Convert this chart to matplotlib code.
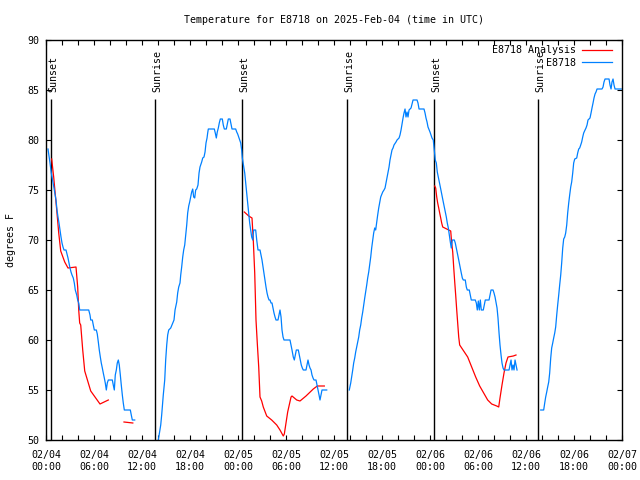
"""
Temperature for E8718 on 2025-Feb-04: station obs vs analysis, with sunrise/sunset markers.
"""

import matplotlib
matplotlib.use("Agg")

import matplotlib.pyplot as plt
import matplotlib.dates as mdates
import pandas as pd

START = pd.Timestamp("2025-02-04 00:00")

# hours since START, degrees F
obs_seg1 = [
    (0.25, 79.1), (0.5, 77.7), (0.66, 76.7), (1.0, 75.2), (1.25, 74.0), (1.375, 73.0),
    (1.5, 72.3), (1.625, 71.7), (1.75, 71.0), (1.875, 70.3), (2.0, 69.7), (2.125, 69.3),
    (2.25, 69.0), (2.5, 69.0), (2.75, 68.2), (2.875, 67.7), (3.0, 67.2), (3.125, 66.8),
    (3.25, 66.5), (3.41, 66.2), (3.54, 65.7), (3.66, 65.0), (3.84, 64.5), (3.96, 64.0),
    (4.09, 63.7), (4.21, 63.0), (5.34, 63.0), (5.5, 62.5), (5.59, 62.0), (5.79, 62.0),
    (5.91, 61.5), (6.04, 61.0), (6.29, 61.0), (6.41, 60.6), (6.54, 59.8), (6.66, 59.0),
    (6.79, 58.3), (6.91, 57.7), (7.04, 57.2), (7.16, 56.7), (7.29, 56.2), (7.41, 55.7),
    (7.54, 55.0), (7.66, 55.7), (7.79, 56.0), (8.29, 56.0), (8.41, 55.5), (8.54, 55.0),
    (8.66, 56.5), (8.79, 57.0), (8.91, 57.7), (9.04, 58.0), (9.16, 57.5), (9.29, 56.5),
    (9.41, 55.5), (9.54, 54.5), (9.66, 53.7), (9.79, 53.0), (10.54, 53.0), (10.66, 52.5),
    (10.79, 52.0), (11.09, 52.0),
]
obs_seg2 = [
    (14.04, 50.0), (14.34, 51.5), (14.46, 52.5), (14.66, 54.5), (14.84, 56.0), (14.96, 58.0),
    (15.09, 59.5), (15.21, 60.5), (15.34, 61.0), (15.59, 61.2), (15.84, 61.7), (16.0, 62.0),
    (16.13, 63.0), (16.34, 63.8), (16.46, 64.7), (16.59, 65.3), (16.75, 65.7), (16.84, 66.5),
    (16.96, 67.3), (17.09, 68.3), (17.21, 69.0), (17.34, 69.5), (17.46, 70.5), (17.59, 71.5),
    (17.71, 72.7), (17.84, 73.4), (17.96, 73.8), (18.09, 74.3), (18.21, 74.8), (18.34, 75.1),
    (18.46, 74.3), (18.59, 74.2), (18.71, 75.0), (18.84, 75.1), (19.0, 75.5), (19.13, 76.7),
    (19.25, 77.3), (19.46, 77.8), (19.59, 78.2), (19.75, 78.3), (19.88, 78.8), (20.0, 79.7),
    (20.13, 80.2), (20.21, 80.7), (20.29, 81.1), (21.04, 81.1), (21.16, 80.7), (21.29, 80.2),
    (21.41, 80.8), (21.54, 81.2), (21.66, 81.7), (21.79, 82.1), (22.04, 82.1), (22.16, 81.5),
    (22.29, 81.1), (22.54, 81.1), (22.66, 81.6), (22.79, 82.1), (23.0, 82.1), (23.13, 81.6),
    (23.25, 81.1), (23.71, 81.1), (23.84, 80.8), (23.96, 80.6), (24.09, 80.3), (24.21, 80.0),
    (24.34, 79.7), (24.46, 79.0), (24.54, 78.2), (24.66, 77.6), (24.84, 76.7), (24.96, 75.7),
    (25.09, 74.7), (25.21, 73.7), (25.34, 72.7), (25.46, 71.7), (25.59, 71.0), (25.71, 70.3),
    (25.84, 70.0), (25.96, 71.0), (26.21, 71.0), (26.34, 70.0), (26.5, 69.0), (26.75, 69.0),
    (26.88, 68.5), (27.0, 68.0), (27.13, 67.3), (27.25, 66.7), (27.38, 66.0), (27.5, 65.3),
    (27.63, 64.7), (27.75, 64.3), (27.88, 64.0), (28.0, 64.0), (28.13, 63.7), (28.25, 63.7),
    (28.38, 63.2), (28.5, 62.7), (28.63, 62.3), (28.75, 62.0), (29.0, 62.0), (29.13, 62.5),
    (29.25, 63.0), (29.38, 62.3), (29.5, 61.0), (29.63, 60.3), (29.75, 60.0), (30.5, 60.0),
    (30.63, 59.5), (30.75, 59.0), (30.91, 58.3), (31.04, 58.0), (31.16, 58.5), (31.29, 59.0),
    (31.54, 59.0), (31.66, 58.5), (31.79, 58.0), (31.91, 57.5), (32.04, 57.2), (32.16, 57.0),
    (32.5, 57.0), (32.63, 57.5), (32.75, 58.0), (32.88, 57.5), (33.0, 57.2), (33.13, 57.0),
    (33.25, 56.5), (33.38, 56.2), (33.5, 56.0), (33.75, 56.0), (33.88, 55.5), (34.0, 55.0),
    (34.13, 54.5), (34.25, 54.0), (34.38, 54.5), (34.5, 55.0), (35.09, 55.0),
]
obs_seg3 = [
    (37.91, 55.0), (38.09, 55.7), (38.21, 56.3), (38.34, 57.0), (38.46, 57.7), (38.59, 58.2),
    (38.71, 58.8), (38.84, 59.3), (38.96, 59.8), (39.09, 60.3), (39.21, 61.0), (39.34, 61.5),
    (39.46, 62.2), (39.59, 62.8), (39.71, 63.5), (39.84, 64.2), (39.96, 64.8), (40.09, 65.5),
    (40.21, 66.2), (40.34, 66.8), (40.46, 67.5), (40.59, 68.3), (40.71, 69.2), (40.84, 70.0),
    (40.96, 70.7), (41.09, 71.2), (41.21, 71.0), (41.34, 71.8), (41.46, 72.5), (41.59, 73.2),
    (41.71, 73.7), (41.84, 74.3), (42.09, 74.8), (42.25, 75.0), (42.38, 75.2), (42.5, 75.7),
    (42.63, 76.2), (42.75, 76.7), (42.88, 77.3), (43.0, 78.0), (43.13, 78.5), (43.25, 79.0),
    (43.38, 79.2), (43.5, 79.5), (43.75, 79.8), (43.88, 80.0), (44.13, 80.2), (44.25, 80.5),
    (44.38, 81.0), (44.5, 81.6), (44.63, 82.2), (44.75, 82.7), (44.88, 83.1), (45.0, 82.3),
    (45.13, 82.8), (45.25, 82.3), (45.38, 83.0), (45.63, 83.2), (45.75, 83.6), (45.88, 84.0),
    (46.38, 84.0), (46.5, 83.7), (46.63, 83.1), (47.25, 83.1), (47.38, 82.7), (47.5, 82.2),
    (47.63, 81.8), (47.75, 81.3), (48.0, 80.8), (48.25, 80.2), (48.41, 80.0), (48.54, 79.0),
    (48.66, 78.0), (48.79, 77.7), (48.91, 76.8), (49.04, 76.3), (49.16, 75.8), (49.29, 75.3),
    (49.41, 74.8), (49.54, 74.3), (49.66, 73.8), (49.79, 73.3), (49.91, 72.8), (50.04, 72.3),
    (50.16, 71.7), (50.29, 71.2), (50.41, 70.5), (50.54, 69.8), (50.66, 69.2), (50.79, 70.0),
    (51.04, 70.0), (51.16, 69.7), (51.29, 69.2), (51.41, 68.7), (51.54, 68.2), (51.66, 67.7),
    (51.79, 67.2), (51.91, 66.7), (52.04, 66.2), (52.16, 66.0), (52.41, 66.0), (52.54, 65.3),
    (52.66, 65.0), (52.91, 65.0), (53.04, 64.5), (53.16, 64.0), (53.66, 64.0), (53.79, 63.7),
    (53.91, 63.0), (54.04, 63.9), (54.16, 63.0), (54.29, 64.0), (54.41, 63.0), (54.66, 63.0),
    (54.79, 63.5), (54.91, 64.0), (55.38, 64.0), (55.5, 64.5), (55.63, 65.0), (55.88, 65.0),
    (56.0, 64.7), (56.13, 64.3), (56.25, 63.8), (56.38, 63.2), (56.5, 62.2), (56.63, 60.7),
    (56.75, 59.5), (56.88, 58.5), (57.0, 57.7), (57.13, 57.2), (57.25, 57.0), (57.88, 57.0),
    (58.0, 57.5), (58.13, 58.0), (58.25, 57.0), (58.38, 57.5), (58.5, 57.0), (58.63, 58.0),
    (58.75, 57.5), (58.88, 57.0),
]
obs_seg4 = [
    (61.84, 53.0), (62.21, 53.0), (62.34, 53.7), (62.46, 54.3), (62.59, 54.8), (62.71, 55.3),
    (62.84, 55.8), (62.96, 56.7), (63.09, 58.2), (63.21, 59.2), (63.34, 59.7), (63.46, 60.2),
    (63.59, 60.7), (63.71, 61.3), (63.84, 62.5), (63.96, 63.5), (64.09, 64.5), (64.21, 65.5),
    (64.34, 66.5), (64.46, 67.7), (64.59, 69.2), (64.71, 70.1), (64.84, 70.3), (64.96, 70.7),
    (65.09, 71.5), (65.21, 72.7), (65.34, 73.7), (65.46, 74.5), (65.59, 75.3), (65.71, 75.8),
    (65.84, 76.7), (65.96, 77.7), (66.09, 78.1), (66.34, 78.2), (66.46, 78.7), (66.59, 79.1),
    (66.71, 79.2), (66.84, 79.5), (66.96, 79.8), (67.09, 80.3), (67.21, 80.7), (67.38, 81.0),
    (67.5, 81.2), (67.63, 81.5), (67.75, 82.0), (68.0, 82.2), (68.13, 82.7), (68.25, 83.2),
    (68.38, 83.7), (68.5, 84.2), (68.63, 84.6), (68.75, 84.8), (68.88, 85.1), (69.5, 85.1),
    (69.63, 85.3), (69.75, 85.8), (69.88, 86.1), (70.38, 86.1), (70.5, 85.5), (70.63, 85.1),
    (70.75, 85.8), (70.88, 86.1), (71.0, 85.5), (71.13, 85.1), (71.9, 85.1),
]

ana_seg1 = [
    (0.71, 78.1), (0.96, 76.3), (1.34, 73.0), (1.59, 70.7), (1.84, 68.9), (2.34, 67.8),
    (2.75, 67.2), (3.75, 67.3), (3.96, 65.3), (4.09, 63.0), (4.21, 61.7), (4.34, 61.5),
    (4.59, 59.0), (4.84, 56.9), (5.59, 54.9), (6.75, 53.6), (7.79, 54.0),
]
ana_seg2 = [(9.75, 51.8), (10.85, 51.7)]
ana_seg3 = [
    (24.79, 72.8), (25.34, 72.4), (25.75, 72.2), (25.91, 70.0), (26.09, 66.7), (26.25, 62.0),
    (26.41, 59.7), (26.59, 57.3), (26.75, 54.3), (26.96, 53.9), (27.16, 53.3), (27.59, 52.4),
    (28.21, 52.0), (28.84, 51.5), (29.25, 51.0), (29.66, 50.4), (29.79, 50.6), (30.21, 52.8),
    (30.63, 54.3), (30.75, 54.4), (31.34, 54.0), (31.75, 53.9), (32.5, 54.4), (33.41, 55.1),
    (33.91, 55.4), (34.79, 55.4),
]
ana_seg4 = [
    (48.59, 75.4), (48.71, 75.2), (48.84, 74.3), (48.96, 73.7), (49.09, 73.2), (49.21, 72.7),
    (49.34, 72.2), (49.46, 71.7), (49.59, 71.3), (50.09, 71.1), (50.59, 70.9), (50.71, 69.7),
    (50.84, 68.8), (50.96, 67.3), (51.09, 65.8), (51.21, 64.5), (51.34, 63.0), (51.46, 61.7),
    (51.59, 60.3), (51.71, 59.5), (52.21, 58.9), (52.71, 58.3), (53.21, 57.3), (53.71, 56.3),
    (54.21, 55.4), (54.71, 54.7), (55.21, 54.0), (55.71, 53.6), (56.34, 53.4), (56.59, 53.3),
    (56.75, 54.2), (57.0, 55.5), (57.25, 56.7), (57.5, 57.7), (57.75, 58.3), (58.41, 58.4),
    (58.75, 58.5),
]

sun_events = ["Sunset", "Sunrise", "Sunset", "Sunrise", "Sunset", "Sunrise"]
sun_hours = [0.66, 13.66, 24.54, 37.66, 48.54, 61.54]

OBS_COLOR = "#0080ff"
ANA_COLOR = "#ff0000"
FONT = "DejaVu Sans Mono"
FS = 7.2


def to_time(hours):
    return START + pd.to_timedelta(hours, unit="h")


def plot_segments(ax, segments, color, label):
    for i, seg in enumerate(segments):
        hrs, temps = zip(*seg)
        ax.plot(to_time(list(hrs)), temps, color=color, lw=0.9,
                label=label if i == 0 else None)


plt.rcParams["font.family"] = FONT
plt.rcParams["font.size"] = FS

fig = plt.figure(figsize=(6.4, 4.8), dpi=100)
ax = fig.add_axes([46 / 640, 40 / 480, 576 / 640, 400 / 480])

plot_segments(ax, [ana_seg1, ana_seg2, ana_seg3, ana_seg4], ANA_COLOR, "E8718 Analysis")
# pad with spaces so the monospaced labels line up on the right, like gnuplot
plot_segments(ax, [obs_seg1, obs_seg2, obs_seg3, obs_seg4], OBS_COLOR, "E8718".rjust(14))

sun_times = to_time(sun_hours)
ax.vlines(sun_times, 50, 84.1, color="black", lw=1.0, zorder=1)
for name, t in zip(sun_events, sun_times):
    ax.text(t + pd.Timedelta(minutes=12), 84.8, name, rotation=90,
            ha="center", va="bottom", fontsize=FS, zorder=5)

ax.set_xlim(START, START + pd.Timedelta(hours=72))
ax.set_ylim(50, 90)
ax.set_yticks(range(50, 91, 5))
ax.xaxis.set_major_locator(mdates.HourLocator(byhour=[0, 6, 12, 18]))
ax.xaxis.set_minor_locator(mdates.HourLocator(byhour=range(0, 24, 2)))
ax.xaxis.set_major_formatter(mdates.DateFormatter("%m/%d\n%H:%M"))
ax.tick_params(which="both", direction="in", top=True, right=True,
               length=3.5, width=0.8, labelsize=FS)
ax.tick_params(axis="x", pad=7)
ax.tick_params(axis="y", pad=5)
for lbl in ax.get_xticklabels():
    lbl.set_linespacing(1.25)
for sp in ax.spines.values():
    sp.set_linewidth(1.0)

ax.set_ylabel("degrees F", labelpad=8)
ax.set_title("Temperature for E8718 on 2025-Feb-04 (time in UTC)", pad=12, fontsize=FS)

ax.legend(loc="upper right", bbox_to_anchor=(0.992, 1.0), frameon=False,
          markerfirst=False, handlelength=3.0, handletextpad=0.6, labelspacing=0.25,
          borderpad=0.0, borderaxespad=0.55, fontsize=FS)

fig.savefig("out.png", dpi=100)
